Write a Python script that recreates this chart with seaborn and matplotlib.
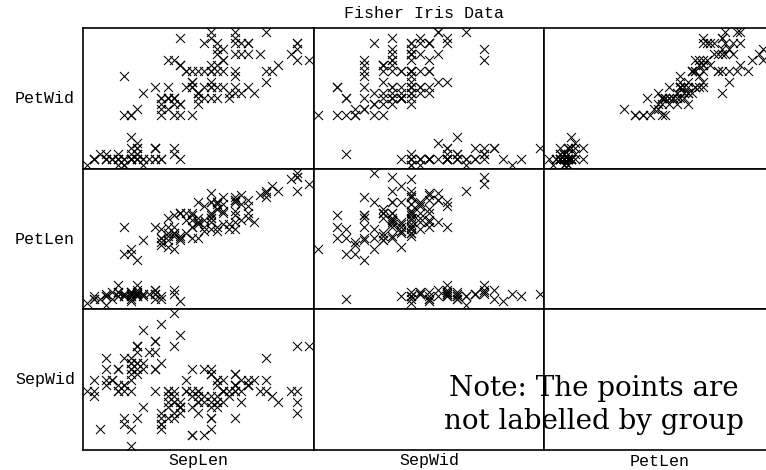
import numpy as np
import pandas as pd
import matplotlib
matplotlib.use("Agg")
import matplotlib.pyplot as plt
import seaborn as sns

sep_len = [5.1,4.9,4.7,4.6,5.0,5.4,4.6,5.0,4.4,4.9,5.4,4.8,4.8,4.3,5.8,5.7,5.4,5.1,5.7,5.1,
           5.4,5.1,4.6,5.1,4.8,5.0,5.0,5.2,5.2,4.7,4.8,5.4,5.2,5.5,4.9,5.0,5.5,4.9,4.4,5.1,
           5.0,4.5,4.4,5.0,5.1,4.8,5.1,4.6,5.3,5.0,
           7.0,6.4,6.9,5.5,6.5,5.7,6.3,4.9,6.6,5.2,5.0,5.9,6.0,6.1,5.6,6.7,5.6,5.8,6.2,5.6,
           5.9,6.1,6.3,6.1,6.4,6.6,6.8,6.7,6.0,5.7,5.5,5.5,5.8,6.0,5.4,6.0,6.7,6.3,5.6,5.5,
           5.5,6.1,5.8,5.0,5.6,5.7,5.7,6.2,5.1,5.7,
           6.3,5.8,7.1,6.3,6.5,7.6,4.9,7.3,6.7,7.2,6.5,6.4,6.8,5.7,5.8,6.4,6.5,7.7,7.7,6.0,
           6.9,5.6,7.7,6.3,6.7,7.2,6.2,6.1,6.4,7.2,7.4,7.9,6.4,6.3,6.1,7.7,6.3,6.4,6.0,6.9,
           6.7,6.9,5.8,6.8,6.7,6.7,6.3,6.5,6.2,5.9]
sep_wid = [3.5,3.0,3.2,3.1,3.6,3.9,3.4,3.4,2.9,3.1,3.7,3.4,3.0,3.0,4.0,4.4,3.9,3.5,3.8,3.8,
           3.4,3.7,3.6,3.3,3.4,3.0,3.4,3.5,3.4,3.2,3.1,3.4,4.1,4.2,3.1,3.2,3.5,3.6,3.0,3.4,
           3.5,2.3,3.2,3.5,3.8,3.0,3.8,3.2,3.7,3.3,
           3.2,3.2,3.1,2.3,2.8,2.8,3.3,2.4,2.9,2.7,2.0,3.0,2.2,2.9,2.9,3.1,3.0,2.7,2.2,2.5,
           3.2,2.8,2.5,2.8,2.9,3.0,2.8,3.0,2.9,2.6,2.4,2.4,2.7,2.7,3.0,3.4,3.1,2.3,3.0,2.5,
           2.6,3.0,2.6,2.3,2.7,3.0,2.9,2.9,2.5,2.8,
           3.3,2.7,3.0,2.9,3.0,3.0,2.5,2.9,2.5,3.6,3.2,2.7,3.0,2.5,2.8,3.2,3.0,3.8,2.6,2.2,
           3.2,2.8,2.8,2.7,3.3,3.2,2.8,3.0,2.8,3.0,2.8,3.8,2.8,2.8,2.6,3.0,3.4,3.1,3.0,3.1,
           3.1,3.1,2.7,3.2,3.3,3.0,2.5,3.0,3.4,3.0]
pet_len = [1.4,1.4,1.3,1.5,1.4,1.7,1.4,1.5,1.4,1.5,1.5,1.6,1.4,1.1,1.2,1.5,1.3,1.4,1.7,1.5,
           1.7,1.5,1.0,1.7,1.9,1.6,1.6,1.5,1.4,1.6,1.6,1.5,1.5,1.4,1.5,1.2,1.3,1.4,1.3,1.5,
           1.3,1.3,1.3,1.6,1.9,1.4,1.6,1.4,1.5,1.4,
           4.7,4.5,4.9,4.0,4.6,4.5,4.7,3.3,4.6,3.9,3.5,4.2,4.0,4.7,3.6,4.4,4.5,4.1,4.5,3.9,
           4.8,4.0,4.9,4.7,4.3,4.4,4.8,5.0,4.5,3.5,3.8,3.7,3.9,5.1,4.5,4.5,4.7,4.4,4.1,4.0,
           4.4,4.6,4.0,3.3,4.2,4.2,4.2,4.3,3.0,4.1,
           6.0,5.1,5.9,5.6,5.8,6.6,4.5,6.3,5.8,6.1,5.1,5.3,5.5,5.0,5.1,5.3,5.5,6.7,6.9,5.0,
           5.7,4.9,6.7,4.9,5.7,6.0,4.8,4.9,5.6,5.8,6.1,6.4,5.6,5.1,5.6,6.1,5.6,5.5,4.8,5.4,
           5.6,5.1,5.1,5.9,5.7,5.2,5.0,5.2,5.4,5.1]
pet_wid = [0.2,0.2,0.2,0.2,0.2,0.4,0.3,0.2,0.2,0.1,0.2,0.2,0.1,0.1,0.2,0.4,0.4,0.3,0.3,0.3,
           0.2,0.4,0.2,0.5,0.2,0.2,0.4,0.2,0.2,0.2,0.2,0.4,0.1,0.2,0.2,0.2,0.2,0.1,0.2,0.2,
           0.3,0.3,0.2,0.6,0.4,0.3,0.2,0.2,0.2,0.2,
           1.4,1.5,1.5,1.3,1.5,1.3,1.6,1.0,1.3,1.4,1.0,1.5,1.0,1.4,1.3,1.4,1.5,1.0,1.5,1.1,
           1.8,1.3,1.5,1.2,1.3,1.4,1.4,1.7,1.5,1.0,1.1,1.0,1.2,1.6,1.5,1.6,1.5,1.3,1.3,1.3,
           1.2,1.4,1.2,1.0,1.3,1.2,1.3,1.3,1.1,1.3,
           2.5,1.9,2.1,1.8,2.2,2.1,1.7,1.8,1.8,2.5,2.0,1.9,2.1,2.0,2.4,2.3,1.8,2.2,2.3,1.5,
           2.3,2.0,2.0,1.8,2.1,1.8,1.8,1.8,2.1,1.6,1.9,2.0,2.2,1.5,1.4,2.3,2.4,1.8,1.8,2.1,
           2.4,2.3,1.9,2.3,2.5,2.3,1.9,2.0,2.3,1.8]

col_vars = ["SepLen", "SepWid", "PetLen"]
row_vars = ["PetWid", "PetLen", "SepWid"]
title = "Fisher Iris Data"
note = "Note: The points are\nnot labelled by group"

df = pd.DataFrame({"SepLen": sep_len, "SepWid": sep_wid,
                   "PetLen": pet_len, "PetWid": pet_wid})
order = ["SepLen", "SepWid", "PetLen", "PetWid"]

sns.set_style("white")
plt.rcParams["text.color"] = "black"
W, H = 766, 470
fig = plt.figure(figsize=(W / 100, H / 100), dpi=100)
left, right, top, bottom = 83, 775, 28, 450
cw = (right - left) / 3
rh = (bottom - top) / 3

mono = "Liberation Mono"

for r, rv in enumerate(row_vars):
    for c, cv in enumerate(col_vars):
        x0 = left + c * cw
        y0 = top + r * rh
        ax = fig.add_axes([x0 / W, 1 - (y0 + rh) / H, cw / W, rh / H])
        if order.index(rv) > order.index(cv):
            sns.scatterplot(data=df, x=cv, y=rv, ax=ax, marker="x", color="black",
                            s=42, linewidth=0.75, legend=False)
        xmin, xmax = df[cv].min(), df[cv].max()
        ymin, ymax = df[rv].min(), df[rv].max()
        xm = (xmax - xmin) * 0.02
        ym = (ymax - ymin) * 0.03
        ax.set_xlim(xmin - xm, xmax + xm)
        ax.set_ylim(ymin - ym, ymax + ym)
        ax.set_xticks([])
        ax.set_yticks([])
        ax.set_xlabel("")
        ax.set_ylabel("")
        for sp in ax.spines.values():
            sp.set_visible(True)
            sp.set_color("black")
            sp.set_linewidth(1.2)
        if c == 0:
            fig.text(75 / W, 1 - (y0 + rh / 2) / H, rv, ha="right", va="center",
                     family=mono, fontsize=12, color="black")
        if r == 2:
            fig.text((x0 + cw / 2) / W, 1 - 461 / H, cv, ha="center", va="center",
                     family=mono, fontsize=12, color="black")

fig.text(424 / W, 1 - 13 / H, title, ha="center", va="center", family=mono,
         fontsize=12, color="black")
fig.text(594 / W, 1 - 405 / H, note, ha="center", va="center",
         family="DejaVu Serif", fontsize=20, linespacing=1.3, color="black")

fig.savefig("out.png", dpi=100)
